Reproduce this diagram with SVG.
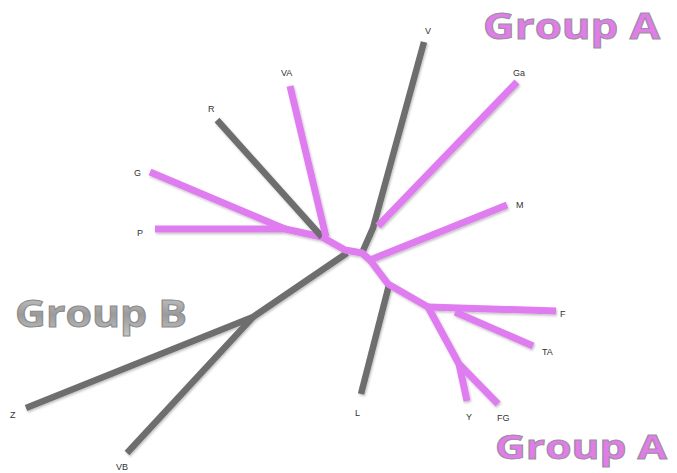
<svg xmlns="http://www.w3.org/2000/svg" width="677" height="473" viewBox="0 0 677 473">
<defs>
<style>
.g{fill:none;stroke:#6e6e6e;stroke-width:6.5;stroke-linejoin:round;stroke-linecap:butt}
.p{fill:none;stroke:#df7cf0;stroke-width:7;stroke-linejoin:round;stroke-linecap:butt}
.lbl{font-family:"Liberation Sans",Arial,sans-serif;font-size:9px;fill:#333}
.ga{font-family:"Open Sans","DejaVu Sans",sans-serif;font-weight:bold;font-size:36px;fill:#e07de9;stroke:#9a8f9c;stroke-width:1}
.gb{font-family:"Open Sans","DejaVu Sans",sans-serif;font-weight:bold;font-size:38px;fill:url(#gbg);stroke:#8a8a8a;stroke-width:1}
</style>
<linearGradient id="gbg" x1="0" y1="0" x2="0" y2="1">
<stop offset="0" stop-color="#d8d8d8"/>
<stop offset="0.55" stop-color="#9a9a9a"/>
<stop offset="1" stop-color="#c8c8c8"/>
</linearGradient>
<filter id="sh" x="-10%" y="-10%" width="120%" height="120%">
<feDropShadow dx="1" dy="1.5" stdDeviation="1" flood-color="#000" flood-opacity="0.25"/>
</filter>
</defs>
<rect width="677" height="473" fill="#fff"/>
<g id="connectors" filter="url(#sh)">
<path class="g" d="M347,253 L253,317 L26,408"/>
<path class="g" d="M253,317 L127,453"/>
<path class="g" d="M424,42 L373,228 L362,253"/>
<path class="g" d="M389,285 L361,394"/>
<path class="p" d="M150,172 L285,229"/>
<path class="p" d="M155,229 L285,229 L322,237"/>
<path class="g" d="M217,120 L322,237"/>
<path class="p" d="M290,86 L326,237"/>
<path class="p" d="M322,237 L345,250 L362,253 L370,260 L388,284 L428,307"/>
<path class="p" d="M428,307 L556,311"/>
<path class="p" d="M455,312 L533,346"/>
<path class="p" d="M428,307 L459,364 L498,404"/>
<path class="p" d="M459,364 L467,401"/>
<path class="p" d="M370,260 L507,205"/>
<path class="p" d="M378,226 L517,82"/>
</g>
<g id="node-V"><text class="lbl" x="425" y="34">V</text></g>
<g id="node-VA"><text class="lbl" x="281" y="76">VA</text></g>
<g id="node-Ga"><text class="lbl" x="513" y="76">Ga</text></g>
<g id="node-R"><text class="lbl" x="208" y="112">R</text></g>
<g id="node-G"><text class="lbl" x="134" y="176">G</text></g>
<g id="node-P"><text class="lbl" x="137" y="236">P</text></g>
<g id="node-M"><text class="lbl" x="516" y="208">M</text></g>
<g id="node-F"><text class="lbl" x="560" y="317">F</text></g>
<g id="node-TA"><text class="lbl" x="542" y="355">TA</text></g>
<g id="node-L"><text class="lbl" x="355" y="416">L</text></g>
<g id="node-Y"><text class="lbl" x="466" y="420">Y</text></g>
<g id="node-FG"><text class="lbl" x="497" y="421">FG</text></g>
<g id="node-Z"><text class="lbl" x="10" y="418">Z</text></g>
<g id="node-VB"><text class="lbl" x="116" y="470">VB</text></g>
<g id="label-groupA-top"><text class="ga" x="483" y="39" textLength="177" lengthAdjust="spacingAndGlyphs">Group A</text></g>
<g id="label-groupA-bottom"><text class="ga" x="495" y="459" style="font-size:34px" textLength="172" lengthAdjust="spacingAndGlyphs">Group A</text></g>
<g id="label-groupB"><text class="gb" x="15" y="327" textLength="172" lengthAdjust="spacingAndGlyphs">Group B</text></g>
</svg>
